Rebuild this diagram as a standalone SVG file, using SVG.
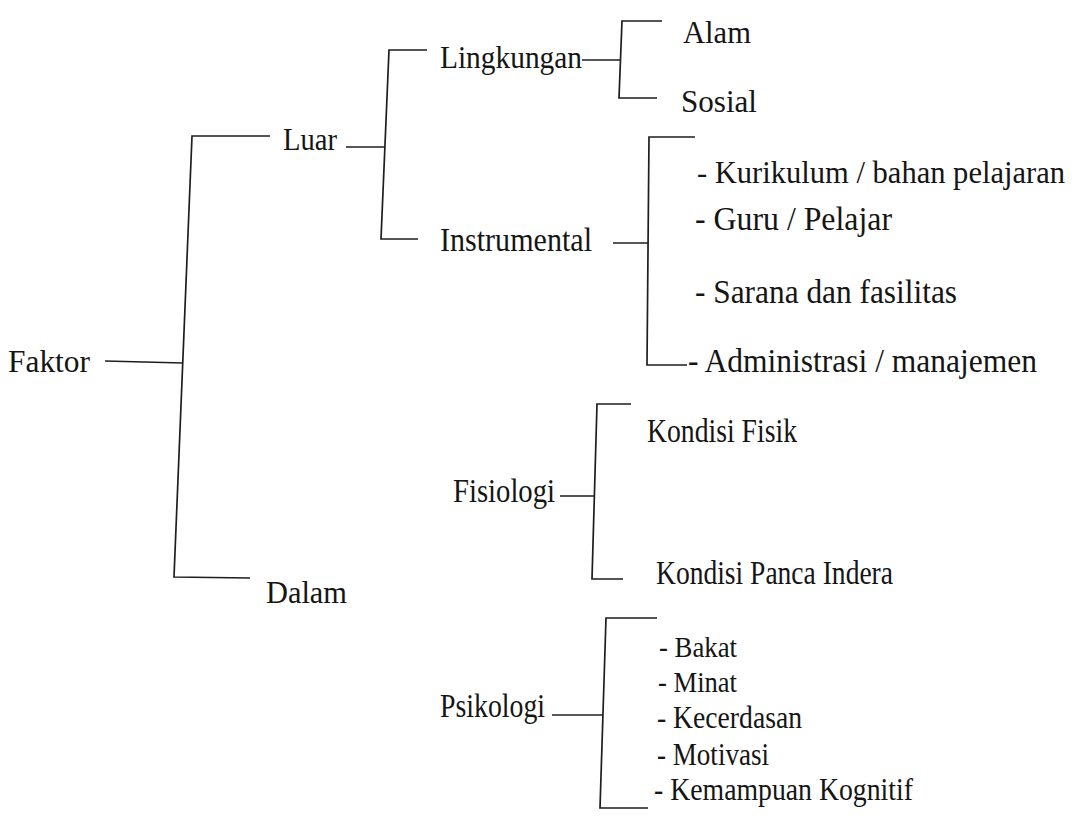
<svg xmlns="http://www.w3.org/2000/svg" width="1086" height="824" viewBox="0 0 1086 824">
<style>
.t{font-family:"Liberation Serif","Times New Roman",serif;fill:#151515}
.c{fill:none;stroke:#1e1e1e;stroke-width:1.7;stroke-linejoin:miter}
</style>
<rect width="1086" height="824" fill="#ffffff"/>
<g id="connectors">
<path class="c" d="M105 361 L183 363"/>
<path class="c" d="M270 136 L192 136 L174 577 L250 578"/>
<path class="c" d="M346 147 L385 147"/>
<path class="c" d="M427 50 L389 50 L381 239 L418 239"/>
<path class="c" d="M582 60 L621 60"/>
<path class="c" d="M662 21 L622 21 L619 98 L657 98"/>
<path class="c" d="M613 243 L648 243"/>
<path class="c" d="M695 137 L649 137 L647 365 L687 365"/>
<path class="c" d="M560 496 L595 496"/>
<path class="c" d="M631 404 L597 404 L592 579 L623 579"/>
<path class="c" d="M552 715 L603 715"/>
<path class="c" d="M657 618 L606 618 L600 808 L648 808"/>
</g>
<g id="n-faktor"><text class="t" x="8" y="372" font-size="32" textLength="82" lengthAdjust="spacingAndGlyphs">Faktor</text></g>
<g id="n-luar"><text class="t" x="283" y="150" font-size="31" textLength="54" lengthAdjust="spacingAndGlyphs">Luar</text></g>
<g id="n-dalam"><text class="t" x="266" y="603" font-size="31" textLength="81" lengthAdjust="spacingAndGlyphs">Dalam</text></g>
<g id="n-lingkungan"><text class="t" x="440" y="68" font-size="31" textLength="142" lengthAdjust="spacingAndGlyphs">Lingkungan</text></g>
<g id="n-instrumental"><text class="t" x="440" y="251" font-size="33" textLength="152" lengthAdjust="spacingAndGlyphs">Instrumental</text></g>
<g id="n-alam"><text class="t" x="683" y="43" font-size="32" textLength="68" lengthAdjust="spacingAndGlyphs">Alam</text></g>
<g id="n-sosial"><text class="t" x="681" y="112" font-size="32" textLength="76" lengthAdjust="spacingAndGlyphs">Sosial</text></g>
<g id="n-kurikulum"><text class="t" x="697" y="183" font-size="31" textLength="368" lengthAdjust="spacingAndGlyphs">- Kurikulum / bahan pelajaran</text></g>
<g id="n-guru"><text class="t" x="695" y="230" font-size="34" textLength="197" lengthAdjust="spacingAndGlyphs">- Guru / Pelajar</text></g>
<g id="n-sarana"><text class="t" x="695" y="303" font-size="34" textLength="262" lengthAdjust="spacingAndGlyphs">- Sarana dan fasilitas</text></g>
<g id="n-administrasi"><text class="t" x="688" y="372" font-size="34" textLength="349" lengthAdjust="spacingAndGlyphs">- Administrasi / manajemen</text></g>
<g id="n-fisiologi"><text class="t" x="453" y="502" font-size="33" textLength="102" lengthAdjust="spacingAndGlyphs">Fisiologi</text></g>
<g id="n-kondisi-fisik"><text class="t" x="647" y="442" font-size="33" textLength="150" lengthAdjust="spacingAndGlyphs">Kondisi Fisik</text></g>
<g id="n-kondisi-panca"><text class="t" x="656" y="584" font-size="33" textLength="237" lengthAdjust="spacingAndGlyphs">Kondisi Panca Indera</text></g>
<g id="n-psikologi"><text class="t" x="440" y="717" font-size="33" textLength="105" lengthAdjust="spacingAndGlyphs">Psikologi</text></g>
<g id="n-bakat"><text class="t" x="659" y="657" font-size="30" textLength="78" lengthAdjust="spacingAndGlyphs">- Bakat</text></g>
<g id="n-minat"><text class="t" x="658" y="692" font-size="30" textLength="79" lengthAdjust="spacingAndGlyphs">- Minat</text></g>
<g id="n-kecerdasan"><text class="t" x="657" y="728" font-size="32" textLength="145" lengthAdjust="spacingAndGlyphs">- Kecerdasan</text></g>
<g id="n-motivasi"><text class="t" x="657" y="765" font-size="32" textLength="112" lengthAdjust="spacingAndGlyphs">- Motivasi</text></g>
<g id="n-kemampuan"><text class="t" x="654" y="800" font-size="32" textLength="259" lengthAdjust="spacingAndGlyphs">- Kemampuan Kognitif</text></g>
</svg>
